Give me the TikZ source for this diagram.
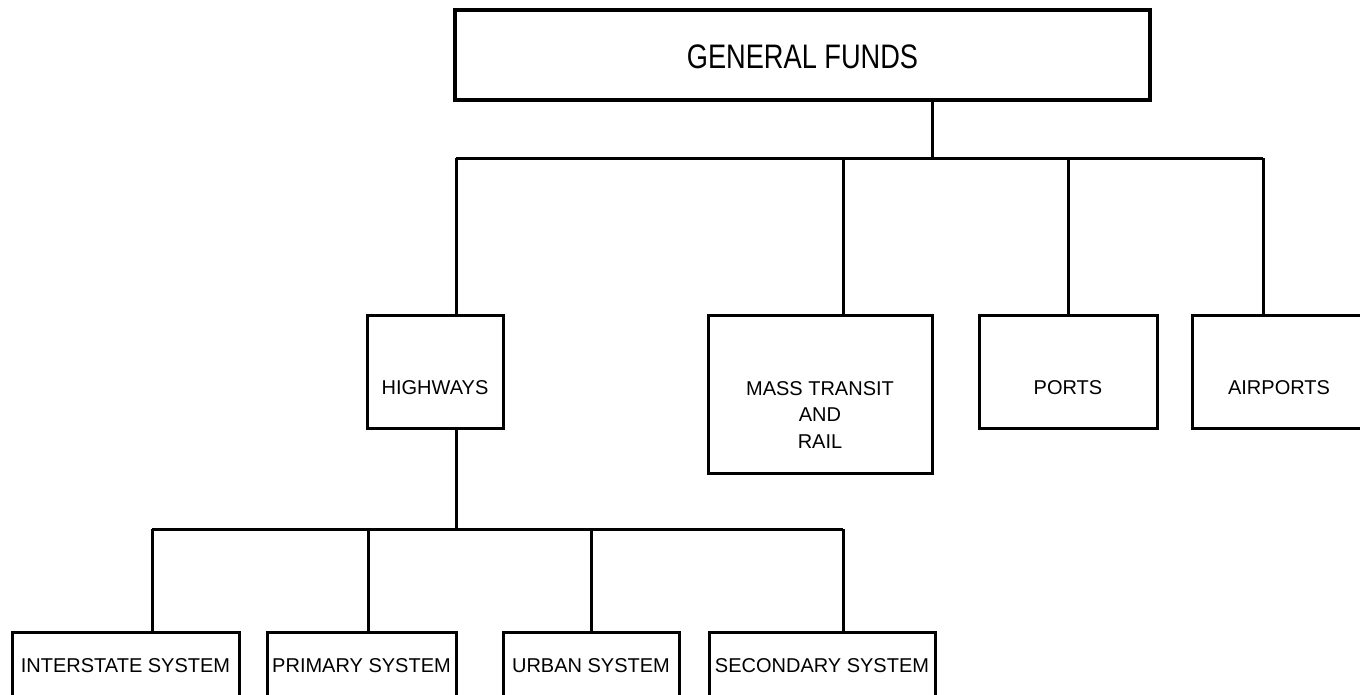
\documentclass[tikz,border=0pt]{standalone}
\usepackage{fontspec}
\setmainfont{Liberation Sans}
\usepackage{graphicx}
\usetikzlibrary{calc}
\tikzset{
	box/.style={draw,line width=3pt,inner sep=0pt,font=\fontsize{20}{26.7}\selectfont},
	topbox/.style={box,line width=4.5pt},
	wire/.style={line width=3pt}
}

\begin{document}
\begin{tikzpicture}[x=1pt,y=-1pt]
	\useasboundingbox (0,0) rectangle (1360,694);
	\clip (0,0) rectangle (1360,694);
	
	%boxes
	\node[topbox,minimum width=695pt,text height=58pt,text depth=32pt] (funds) at (802.5,55) {\scalebox{0.8}[1]{\fontsize{34}{36}\selectfont GENERAL FUNDS}};
	%
	\node[box,minimum width=136pt,text height=79pt,text depth=34pt] (highways) at (435,371.5) {HIGHWAYS};
	\node[box,minimum width=224pt,text height=80pt,text depth=78pt] (transit) at (820,394) {\begin{tabular}[t]{@{}c@{}}MASS TRANSIT\\AND\\RAIL\end{tabular}};
	\node[box,minimum width=178pt,text height=79pt,text depth=34pt] (ports) at (1068,371.5) {PORTS};
	\node[box,minimum width=174pt,text height=79pt,text depth=34pt] (airports) at (1279,371.5) {AIRPORTS};
	%
	\node[box,minimum width=227pt,text height=40pt,text depth=40pt] (interstate) at (125.5,672) {INTERSTATE SYSTEM};
	\node[box,minimum width=189pt,text height=40pt,text depth=40pt] (primary) at (361.5,672) {PRIMARY SYSTEM};
	\node[box,minimum width=176pt,text height=40pt,text depth=40pt] (urban) at (591,672) {URBAN SYSTEM};
	\node[box,minimum width=226pt,text height=40pt,text depth=40pt] (secondary) at (822,672) {SECONDARY SYSTEM};
	
	%upper tree
	\coordinate (stem) at (932,158);
	\coordinate (hwtap) at (456,158);
	\coordinate (mttap) at (843,158);
	\coordinate (pttap) at (1068,158);
	\coordinate (aptap) at (1263,158);
	\draw[wire] (stem |- funds.south) -- (stem);
	\draw[wire] (hwtap) -- (aptap);
	\draw[wire] (hwtap) -- (hwtap |- highways.north);
	\draw[wire] (mttap) -- (mttap |- transit.north);
	\draw[wire] (pttap) -- (pttap |- ports.north);
	\draw[wire] (aptap) -- (aptap |- airports.north);
	
	%lower tree
	\coordinate (hwstem) at (456,529);
	\coordinate (istap) at (152,529);
	\coordinate (pstap) at (368,529);
	\coordinate (ustap) at (591,529);
	\coordinate (sstap) at (843,529);
	\draw[wire] (hwstem |- highways.south) -- (hwstem);
	\draw[wire] (istap) -- (sstap);
	\draw[wire] (istap) -- (istap |- interstate.north);
	\draw[wire] (pstap) -- (pstap |- primary.north);
	\draw[wire] (ustap) -- (ustap |- urban.north);
	\draw[wire] (sstap) -- (sstap |- secondary.north);
\end{tikzpicture}
\end{document}
